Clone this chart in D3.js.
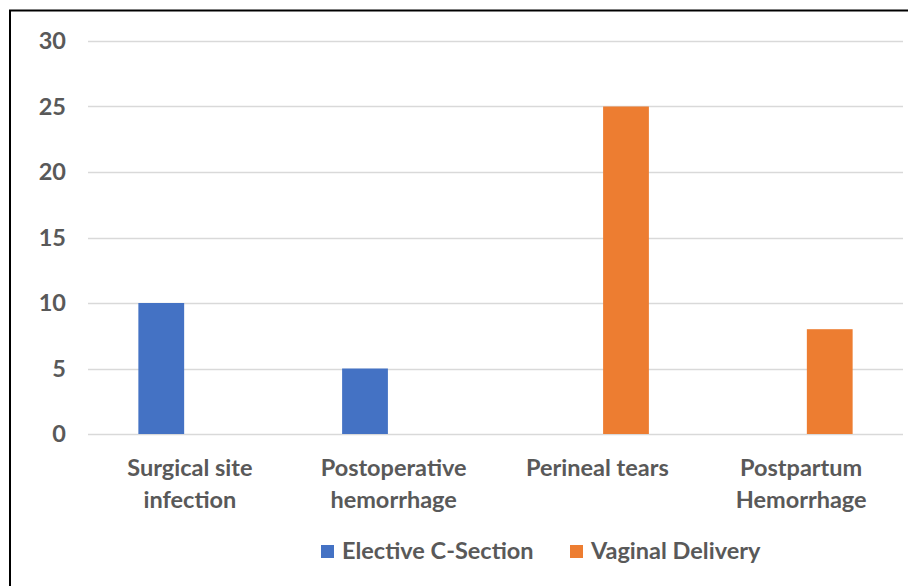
<!DOCTYPE html>
<html>
<head>
<meta charset="utf-8">
<script src="https://cdn.jsdelivr.net/npm/d3@7"></script>
<style>
  html, body { margin: 0; padding: 0; background: #fff; }
  svg { display: block; }
  text { font-family: "Lato", "Open Sans", sans-serif; font-weight: 700; fill: #595959; }
</style>
</head>
<body>
<svg id="chart" width="908" height="586"></svg>
<script>
// Complication categories (two-line labels)
const categories = [
  ["Surgical site", "infection"],
  ["Postoperative", "hemorrhage"],
  ["Perineal tears"],
  ["Postpartum", "Hemorrhage"]
];
const seriesNames = ["Elective C-Section", "Vaginal Delivery"];
const electiveCS = [10, 5, 0, 0];
const vaginal = [0, 0, 25, 8];
const yTicks = [0, 5, 10, 15, 20, 25, 30];
const colors = ["#4472C4", "#ED7D31"];

const svg = d3.select("#chart");
const W = 908, H = 586;
const FS = 23.5;

// Frame (left and top edges visible)
svg.append("rect").attr("x", 0).attr("y", 0).attr("width", W).attr("height", H).attr("fill", "#fff");
svg.append("path")
  .attr("d", `M10,${H} L10,10.5 L${W},10.5`)
  .attr("fill", "none").attr("stroke", "#000").attr("stroke-width", 2);

const plot = { left: 88, right: 903, top: 41, bottom: 434 };
const keys = categories.map(c => c.join(" "));

const x0 = d3.scaleBand().domain(keys).range([plot.left, plot.right]).padding(0);
const x1 = d3.scaleBand().domain(seriesNames).range([0, x0.bandwidth()])
  .paddingInner(0.2).paddingOuter(0.88);
const y = d3.scaleLinear().domain([0, 30]).range([plot.bottom, plot.top]);

// Gridlines
svg.append("g").selectAll("line").data(yTicks).join("line")
  .attr("x1", plot.left).attr("x2", plot.right)
  .attr("y1", d => Math.round(y(d)) + 0.5).attr("y2", d => Math.round(y(d)) + 0.5)
  .attr("stroke", "#D9D9D9").attr("stroke-width", 1.3);

// Y axis labels
const yAxis = d3.axisLeft(y).tickValues(yTicks).tickSize(0).tickPadding(0);
const gy = svg.append("g").attr("transform", `translate(66,0)`).call(yAxis);
gy.select(".domain").remove();
gy.selectAll("text").attr("font-size", FS).attr("fill", "#595959")
  .style("font-family", "Lato, 'Open Sans', sans-serif").style("font-weight", 700);

// Bars
const rows = keys.map((k, i) => ({ key: k, values: [electiveCS[i], vaginal[i]] }));
const groups = svg.append("g").selectAll("g").data(rows).join("g")
  .attr("transform", d => `translate(${x0(d.key)},0)`);
groups.selectAll("rect")
  .data(d => d.values.map((v, j) => ({ series: seriesNames[j], value: v, j })).filter(e => e.value > 0))
  .join("rect")
  .attr("x", d => x1(d.series))
  .attr("width", x1.bandwidth())
  .attr("y", d => y(d.value))
  .attr("height", d => y(0) - y(d.value))
  .attr("fill", d => colors[d.j]);

// Category labels
const xl = svg.append("g");
categories.forEach((lines, i) => {
  const cx = x0(keys[i]) + x0.bandwidth() / 2;
  const t = xl.append("text").attr("text-anchor", "middle").attr("font-size", FS);
  lines.forEach((ln, k) => {
    t.append("tspan").attr("x", cx).attr("y", 476 + k * 32).text(ln);
  });
});

// Legend
const legend = svg.append("g");
const legendItems = [{ x: 321, name: seriesNames[0], c: colors[0] }, { x: 570, name: seriesNames[1], c: colors[1] }];
legendItems.forEach(it => {
  legend.append("rect").attr("x", it.x).attr("y", 545).attr("width", 13).attr("height", 13).attr("fill", it.c);
  legend.append("text").attr("x", it.x + 21).attr("y", 559).attr("font-size", FS).text(it.name);
});
</script>
</body>
</html>
